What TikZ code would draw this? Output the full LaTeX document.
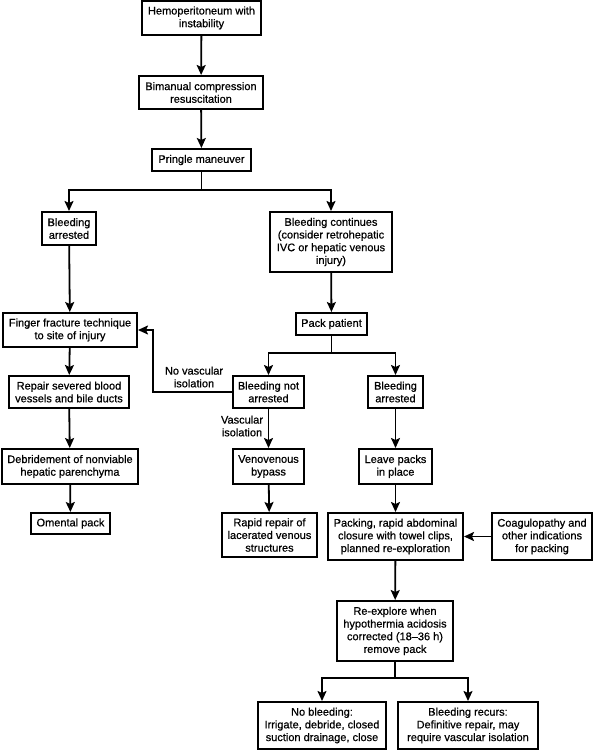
\documentclass[tikz,border=0pt]{standalone}
\usepackage{fontspec}
\setmainfont{Liberation Sans}[BoldFont={Liberation Sans},BoldFeatures={FakeBold=0.6}]
\usetikzlibrary{arrows.meta}
\begin{document}
\begin{tikzpicture}[x=1pt,y=-1pt,
  box/.style={draw, line width=2pt, inner sep=0pt, align=center,
    font=\fontsize{11}{12.7}\selectfont\bfseries},
  arr/.style={line width=1.8pt, -{Stealth[length=10pt,width=9pt,inset=2pt]}},
  ln/.style={line width=1.8pt},
  lbl/.style={align=center, inner sep=0pt, font=\fontsize{11}{12.7}\selectfont\bfseries}]
\useasboundingbox (0,0) rectangle (593,750);
\fill[white] (0,0) rectangle (593,750);
% nodes
\node[box, minimum width=119pt, minimum height=34pt] (hemo) at (201.5,18) {Hemoperitoneum with\\instability};
\node[box, minimum width=124pt, minimum height=33pt] (bim) at (201,92.5) {Bimanual compression\\resuscitation};
\node[box, minimum width=99pt, minimum height=22pt] (pringle) at (201.5,160) {Pringle maneuver};
\node[box, minimum width=54pt, minimum height=33pt] (barrA) at (69,228.5) {Bleeding\\arrested};
\node[box, minimum width=122pt, minimum height=60pt] (bcont) at (331,242) {Bleeding continues\\(consider retrohepatic\\IVC or hepatic venous\\injury)};
\node[box, minimum width=134pt, minimum height=34pt] (finger) at (70,330) {Finger fracture technique\\to site of injury};
\node[box, minimum width=71pt, minimum height=22pt] (pack) at (331.5,324) {Pack patient};
\node[box, minimum width=120pt, minimum height=32pt] (repair) at (69,392) {Repair severed blood\\vessels and bile ducts};
\node[box, minimum width=71pt, minimum height=32pt] (bnot) at (268.5,392) {Bleeding not\\arrested};
\node[box, minimum width=55pt, minimum height=32pt] (barrB) at (395.5,392) {Bleeding\\arrested};
\node[box, minimum width=136pt, minimum height=35pt] (debr) at (70,466.5) {Debridement of nonviable\\hepatic parenchyma};
\node[box, minimum width=71pt, minimum height=35pt] (veno) at (268.5,466.5) {Venovenous\\bypass};
\node[box, minimum width=73pt, minimum height=35pt] (leave) at (395.5,466.5) {Leave packs\\in place};
\node[box, minimum width=79pt, minimum height=21pt] (omental) at (70.5,523.5) {Omental pack};
\node[box, minimum width=95pt, minimum height=44pt] (rapid) at (269.5,535) {Rapid repair of\\lacerated venous\\structures};
\node[box, minimum width=135pt, minimum height=47pt] (packing) at (395.5,536.5) {Packing, rapid abdominal\\closure with towel clips,\\planned re-exploration};
\node[box, minimum width=100pt, minimum height=47pt] (coag) at (542,536.5) {Coagulopathy and\\other indications\\for packing};
\node[box, minimum width=116pt, minimum height=60pt] (reexp) at (395,631) {Re-explore when\\hypothermia acidosis\\corrected (18--36 h)\\remove pack};
\node[box, minimum width=128pt, minimum height=47pt] (nobleed) at (322,725.5) {No bleeding:\\Irrigate, debride, closed\\suction drainage, close};
\node[box, minimum width=140pt, minimum height=47pt] (brecur) at (468,725.5) {Bleeding recurs:\\Definitive repair, may\\require vascular isolation};
% labels
\node[lbl] (lnv) at (194,377) {No vascular\\isolation};
\node[lbl] (lvi) at (242,426) {Vascular\\isolation};
% junction coordinates
\coordinate (s1) at (201.5,190);
\coordinate (s2) at (331.5,353);
\coordinate (s3) at (395,678);
\coordinate (nv) at (153,330);
% connectors
\draw[arr] (hemo) -- (bim);
\draw[arr] (bim) -- (pringle);
\draw[ln] (pringle) -- (s1);
\draw[arr] (s1) -| (barrA);
\draw[arr] (s1) -| (bcont);
\draw[arr] (barrA) -- (finger);
\draw[arr] (finger) -- (repair);
\draw[arr] (repair) -- (debr);
\draw[arr] (debr) -- (omental);
\draw[arr] (bcont) -- (pack);
\draw[ln] (pack) -- (s2);
\draw[arr] (s2) -| (bnot);
\draw[arr] (s2) -| (barrB);
\draw[arr] (bnot.west) -| (nv) -- (finger.east);
\draw[arr] (bnot) -- (veno);
\draw[arr] (veno) -- (rapid);
\draw[arr] (barrB) -- (leave);
\draw[arr] (leave) -- (packing);
\draw[arr] (coag) -- (packing);
\draw[arr] (packing) -- (reexp);
\draw[ln] (reexp) -- (s3);
\draw[arr] (s3) -| (nobleed);
\draw[arr] (s3) -| (brecur);
\end{tikzpicture}
\end{document}
